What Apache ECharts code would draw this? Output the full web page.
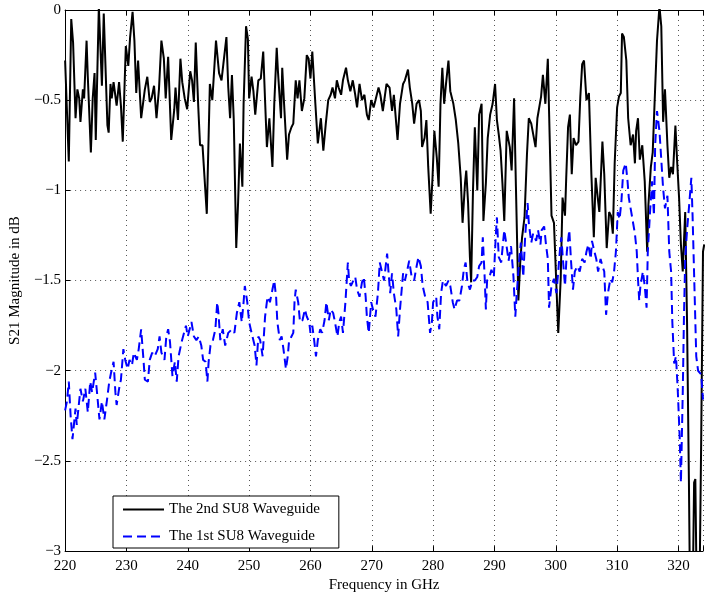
<!DOCTYPE html>
<html>
<head>
<meta charset="utf-8">
<script src="https://cdn.jsdelivr.net/npm/echarts@6/dist/echarts.min.js"></script>
<style>
html,body{margin:0;padding:0;background:#fff;}
#chart{width:706px;height:598px;}
</style>
</head>
<body>
<div id="chart"></div>
<script>
// Frequencies (GHz) and S21 magnitudes (dB)
const seriesNames = ['The 2nd SU8 Waveguide', 'The 1st SU8 Waveguide'];
const xTicks = [220, 230, 240, 250, 260, 270, 280, 290, 300, 310, 320];
const yTicks = [0, -0.5, -1, -1.5, -2, -2.5, -3];

const blackFreq = [220.0,220.6,221.0,221.3,221.7,222.0,222.3,222.5,222.9,223.1,223.5,223.7,224.2,224.5,224.8,225.0,225.5,225.8,226.0,226.3,226.9,227.1,227.4,227.6,227.9,228.4,228.8,229.1,229.4,229.7,229.9,230.3,230.6,231.0,231.3,231.6,231.9,232.4,233.0,233.4,233.8,234.1,234.5,234.9,235.3,235.7,236.1,236.4,236.8,237.3,237.8,238.0,238.4,238.8,239.1,239.5,239.9,240.4,240.7,241.0,241.3,241.7,242.0,242.4,243.1,243.6,244.0,244.6,245.1,245.5,245.8,246.3,246.6,246.9,247.2,247.5,247.9,248.2,248.5,248.9,249.1,249.5,249.8,250.0,250.4,250.7,251.0,251.5,251.9,252.3,252.6,252.9,253.3,253.8,254.1,254.5,254.7,255.2,255.4,255.7,256.2,256.5,256.9,257.2,257.6,257.9,258.2,258.6,259.0,259.4,259.7,260.0,260.3,260.8,261.2,261.7,262.1,262.5,262.9,263.3,263.6,264.0,264.3,264.6,265.0,265.3,265.8,266.1,266.5,266.9,267.3,267.6,268.0,268.4,268.8,269.2,269.5,269.9,270.3,270.6,271.1,271.4,271.8,272.4,272.9,273.3,273.6,274.2,274.6,275.1,275.4,275.9,276.2,276.6,276.9,277.3,277.7,278.0,278.2,278.6,278.9,279.2,279.6,279.9,280.2,280.6,280.9,281.2,281.5,281.8,282.1,282.5,282.8,283.3,283.7,284.1,284.5,284.8,285.2,285.4,285.7,286.0,286.2,286.5,286.8,287.2,287.5,287.9,288.2,288.6,288.9,289.3,289.7,290.1,290.4,290.7,291.0,291.3,291.6,292.0,292.5,292.8,293.2,293.5,293.9,294.2,294.5,294.9,295.3,295.6,296.0,296.3,296.7,297.0,297.6,297.9,298.3,298.7,298.9,299.3,299.7,300.1,300.4,300.8,301.1,301.5,301.7,302.0,302.3,302.6,302.9,303.3,303.7,304.0,304.3,304.6,305.0,305.4,305.8,306.2,306.5,306.9,307.1,307.6,307.9,308.3,308.7,309.0,309.3,309.6,310.0,310.3,310.6,310.8,311.1,311.5,311.8,312.2,312.6,312.9,313.1,313.4,313.7,314.1,314.5,314.9,315.1,315.5,315.8,316.1,316.5,316.9,317.2,317.5,317.8,318.2,318.5,318.8,319.1,319.5,319.8,320.1,320.4,320.7,320.9,321.1,321.4,321.7,321.9,322.3,322.55,322.75,323.0,323.4,323.7,324.0,324.2];
const blackVal = [-0.28,-0.84,-0.05,-0.18,-0.60,-0.44,-0.49,-0.62,-0.44,-0.49,-0.17,-0.37,-0.79,-0.49,-0.35,-0.72,0.02,0.02,-0.42,-0.02,-0.64,-0.68,-0.41,-0.49,-0.40,-0.53,-0.40,-0.53,-0.73,-0.73,-0.20,-0.31,-0.15,-0.01,-0.17,-0.46,-0.28,-0.60,-0.44,-0.37,-0.51,-0.49,-0.42,-0.60,-0.44,-0.17,-0.27,-0.49,-0.26,-0.72,-0.55,-0.43,-0.61,-0.27,-0.40,-0.49,-0.55,-0.34,-0.39,-0.51,-0.18,-0.53,-0.75,-0.75,-1.13,-0.41,-0.50,-0.17,-0.35,-0.39,-0.30,-0.15,-0.43,-0.60,-0.36,-0.61,-1.32,-1.07,-0.74,-0.98,-0.52,-0.09,-0.16,-0.49,-0.37,-0.45,-0.58,-0.39,-0.38,-0.23,-0.50,-0.76,-0.60,-0.87,-0.52,-0.21,-0.34,-0.60,-0.32,-0.52,-0.83,-0.69,-0.65,-0.63,-0.39,-0.49,-0.39,-0.56,-0.49,-0.25,-0.27,-0.38,-0.23,-0.52,-0.74,-0.60,-0.78,-0.63,-0.50,-0.47,-0.43,-0.49,-0.39,-0.43,-0.47,-0.39,-0.32,-0.39,-0.45,-0.39,-0.47,-0.54,-0.41,-0.50,-0.47,-0.58,-0.61,-0.50,-0.54,-0.50,-0.43,-0.47,-0.56,-0.41,-0.43,-0.56,-0.47,-0.72,-0.52,-0.41,-0.39,-0.33,-0.43,-0.52,-0.63,-0.52,-0.50,-0.56,-0.76,-0.71,-0.61,-0.87,-1.13,-0.93,-0.67,-0.82,-0.98,-0.52,-0.32,-0.52,-0.41,-0.28,-0.45,-0.52,-0.61,-0.74,-0.93,-1.18,-0.96,-0.89,-1.07,-1.37,-1.51,-1.00,-0.65,-1.00,-0.58,-0.52,-1.17,-0.96,-0.71,-0.58,-0.52,-0.41,-0.61,-0.69,-0.78,-0.96,-1.17,-0.67,-0.76,-0.89,-0.49,-0.98,-1.61,-1.40,-1.26,-1.15,-0.80,-0.60,-0.63,-0.63,-0.76,-0.60,-0.48,-0.36,-0.52,-0.27,-0.56,-1.14,-1.18,-1.53,-1.79,-1.49,-1.04,-1.14,-0.93,-0.65,-0.58,-0.91,-0.71,-0.75,-0.73,-0.48,-0.30,-0.28,-0.50,-0.46,-0.91,-1.26,-0.93,-1.06,-1.12,-0.73,-0.91,-1.32,-1.12,-1.14,-1.24,-0.85,-0.54,-0.48,-0.46,-0.13,-0.15,-0.28,-0.60,-0.75,-0.69,-0.85,-0.67,-0.60,-0.83,-0.75,-0.95,-1.34,-1.08,-0.87,-0.79,-0.52,-0.17,0.02,-0.09,-0.62,-0.44,-0.75,-0.93,-0.87,-0.91,-0.64,-0.85,-1.04,-1.30,-1.45,-1.28,-1.12,-1.73,-2.60,-3.30,-3.30,-2.62,-2.60,-3.30,-3.30,-2.40,-1.34,-1.30];

const blueFreq = [220.0,220.3,220.6,220.9,221.2,221.7,221.9,222.5,222.9,223.3,223.7,224.1,224.4,224.9,225.2,225.6,226.0,226.4,226.8,227.2,227.5,227.9,228.2,228.4,228.8,229.1,229.5,229.8,230.2,230.5,230.9,231.2,231.7,232.0,232.4,232.8,233.0,233.5,233.8,234.2,234.6,235.1,235.4,235.7,236.2,236.5,236.8,237.1,237.5,237.9,238.2,238.5,239.0,239.3,239.7,240.0,240.6,241.0,241.4,241.8,242.2,242.5,242.9,243.2,243.4,243.7,244.1,244.5,244.8,245.0,245.3,245.7,246.1,246.6,247.2,247.6,248.0,248.4,248.8,249.1,249.3,249.7,250.0,250.4,250.9,251.2,251.5,251.8,252.2,252.6,253.0,253.4,253.8,254.1,254.4,254.6,255.0,255.3,255.6,256.0,256.3,256.5,256.9,257.2,257.4,257.6,258.0,258.3,258.7,259.1,259.4,259.8,260.0,260.3,260.6,260.9,261.2,261.6,261.9,262.3,262.6,263.0,263.3,263.7,264.0,264.4,264.7,265.0,265.3,265.7,266.1,266.3,266.6,267.0,267.3,267.6,268.0,268.4,268.7,269.0,269.2,269.5,269.9,270.2,270.6,271.0,271.3,271.6,272.0,272.5,272.7,273.0,273.3,273.6,274.0,274.3,274.6,275.1,275.4,275.8,276.1,276.5,276.9,277.2,277.6,278.0,278.3,278.7,279.1,279.5,279.8,280.0,280.5,280.7,281.0,281.3,281.6,282.1,282.5,282.8,283.2,283.5,283.9,284.3,284.7,285.0,285.3,285.6,286.0,286.4,286.8,287.2,287.5,287.9,288.1,288.4,288.6,288.8,289.2,289.5,289.9,290.2,290.4,290.7,291.1,291.4,291.6,291.9,292.3,292.7,293.1,293.4,293.6,294.0,294.3,294.7,295.0,295.4,295.6,296.0,296.3,296.8,297.1,297.5,297.7,298.1,298.4,298.7,298.9,299.3,299.7,300.1,300.4,300.7,300.9,301.2,301.5,301.8,302.2,302.5,302.8,303.1,303.5,303.9,304.3,304.7,305.0,305.3,305.7,305.9,306.3,306.6,306.9,307.3,307.6,307.9,308.2,308.5,308.9,309.2,309.5,309.8,310.1,310.4,310.7,311.0,311.4,311.7,311.9,312.2,312.5,312.9,313.2,313.4,313.6,313.8,314.2,314.5,314.8,315.0,315.4,315.7,316.0,316.2,316.5,316.9,317.2,317.5,317.8,318.2,318.5,318.8,319.0,319.3,319.6,319.9,320.2,320.4,320.7,320.9,321.1,321.4,321.7,322.1,322.3,322.6,322.9,323.2,323.7,324.0];
const blueVal = [-2.22,-2.17,-2.06,-2.25,-2.38,-2.21,-2.30,-2.10,-2.17,-2.10,-2.23,-2.06,-2.12,-2.01,-2.12,-2.27,-2.17,-2.27,-2.17,-2.06,-2.01,-1.95,-2.12,-2.19,-2.10,-2.05,-1.88,-1.94,-1.99,-1.94,-1.97,-1.90,-1.94,-1.88,-1.77,-1.95,-2.05,-2.06,-1.94,-1.90,-1.92,-1.88,-1.81,-1.90,-1.94,-1.81,-1.77,-1.84,-2.03,-1.95,-2.06,-1.92,-1.84,-1.83,-1.75,-1.81,-1.73,-1.81,-1.83,-1.81,-1.86,-1.94,-1.95,-2.06,-1.95,-1.86,-1.83,-1.77,-1.62,-1.68,-1.83,-1.77,-1.86,-1.79,-1.77,-1.79,-1.68,-1.62,-1.73,-1.62,-1.53,-1.62,-1.73,-1.79,-1.86,-1.97,-1.81,-1.83,-1.92,-1.70,-1.59,-1.62,-1.55,-1.50,-1.59,-1.73,-1.83,-1.81,-1.88,-1.99,-1.92,-1.84,-1.81,-1.79,-1.62,-1.55,-1.62,-1.73,-1.72,-1.66,-1.70,-1.73,-1.79,-1.75,-1.83,-1.92,-1.83,-1.77,-1.79,-1.72,-1.62,-1.72,-1.66,-1.68,-1.73,-1.81,-1.73,-1.70,-1.79,-1.62,-1.40,-1.50,-1.53,-1.50,-1.48,-1.55,-1.59,-1.51,-1.48,-1.59,-1.70,-1.79,-1.62,-1.66,-1.70,-1.57,-1.40,-1.40,-1.50,-1.35,-1.44,-1.57,-1.46,-1.57,-1.66,-1.81,-1.66,-1.46,-1.50,-1.44,-1.39,-1.48,-1.50,-1.44,-1.37,-1.42,-1.53,-1.59,-1.62,-1.79,-1.73,-1.62,-1.59,-1.70,-1.77,-1.57,-1.50,-1.53,-1.50,-1.53,-1.62,-1.66,-1.61,-1.61,-1.53,-1.44,-1.40,-1.51,-1.55,-1.50,-1.50,-1.48,-1.42,-1.40,-1.26,-1.48,-1.66,-1.50,-1.48,-1.44,-1.48,-1.26,-1.15,-1.37,-1.40,-1.29,-1.22,-1.29,-1.39,-1.31,-1.48,-1.70,-1.59,-1.40,-1.29,-1.48,-1.26,-1.07,-1.18,-1.29,-1.24,-1.28,-1.22,-1.30,-1.22,-1.20,-1.30,-1.38,-1.65,-1.53,-1.49,-1.57,-1.45,-1.32,-1.26,-1.40,-1.53,-1.34,-1.22,-1.40,-1.55,-1.45,-1.42,-1.45,-1.38,-1.40,-1.34,-1.30,-1.38,-1.28,-1.34,-1.38,-1.45,-1.38,-1.42,-1.45,-1.69,-1.57,-1.49,-1.51,-1.45,-1.34,-1.12,-1.16,-1.06,-0.89,-0.85,-0.95,-1.04,-1.10,-1.16,-1.24,-1.34,-1.49,-1.61,-1.53,-1.45,-1.53,-1.65,-1.34,-1.10,-0.95,-1.14,-0.75,-0.56,-0.67,-0.83,-0.99,-1.10,-1.03,-1.34,-1.45,-1.73,-1.96,-1.92,-2.12,-2.37,-2.62,-2.12,-1.69,-1.38,-1.22,-1.10,-0.93,-1.14,-1.53,-1.92,-2.00,-2.02,-2.16];

const FONT = 'Liberation Serif';
const FS = 15;
const fmtY = v => (v === 0 ? '0' : (v < 0 ? '\u2212' : '') + String(Math.abs(v)));

const chart = echarts.init(document.getElementById('chart'), null, {renderer: 'canvas'});
const gridLine = {show: true, lineStyle: {color: '#555', type: [1, 4], width: 1}};
chart.setOption({
  animation: false,
  backgroundColor: '#fff',
  grid: {left: 63, top: 10, right: 0, bottom: 43, containLabel: false},
  legend: {
    data: seriesNames,
    orient: 'vertical',
    left: 113, top: 496,
    itemWidth: 41, itemHeight: 14, itemGap: 12,
    padding: [6, 19, 4, 9],
    backgroundColor: '#fff', borderColor: '#000', borderWidth: 1, borderRadius: 0,
    textStyle: {fontFamily: FONT, fontSize: FS, color: '#000'},
    itemStyle: {opacity: 0}
  },
  xAxis: [{
    type: 'value', min: 220, max: 324, interval: 10,
    name: 'Frequency in GHz', nameLocation: 'middle', nameGap: 20,
    nameTextStyle: {fontFamily: FONT, fontSize: FS, color: '#000'},
    axisLine: {show: true, onZero: false, lineStyle: {color: '#000', width: 1}},
    axisTick: {show: true, inside: true, length: 5, lineStyle: {color: '#000'}},
    axisLabel: {fontFamily: FONT, fontSize: FS, color: '#000', margin: 7,
      formatter: v => (xTicks.indexOf(v) >= 0 ? String(v) : '')},
    splitLine: gridLine
  }, {
    type: 'value', min: 220, max: 324, interval: 10, position: 'top',
    axisLine: {show: true, onZero: false, lineStyle: {color: '#000', width: 1}},
    axisTick: {show: true, inside: true, length: 5, lineStyle: {color: '#000'}},
    axisLabel: {show: false}, splitLine: {show: false}
  }],
  yAxis: {
    type: 'value', min: -3, max: 0, interval: 0.5,
    name: 'S21 Magnitude in dB', nameLocation: 'middle', nameGap: 37,
    nameTextStyle: {fontFamily: FONT, fontSize: FS, color: '#000'},
    axisLine: {show: true, onZero: false, lineStyle: {color: '#000', width: 1}},
    axisTick: {show: true, inside: true, length: 5, lineStyle: {color: '#000'}},
    axisLabel: {fontFamily: FONT, fontSize: FS, color: '#000', margin: 4,
      formatter: v => (yTicks.indexOf(v) >= 0 ? fmtY(v) : '')},
    splitLine: gridLine
  },
  series: [{
    name: seriesNames[0], type: 'line', symbol: 'none', clip: true,
    data: blackFreq.map((f, i) => [f, blackVal[i]]),
    lineStyle: {color: '#000', width: 2}, itemStyle: {color: '#000'}
  }, {
    name: seriesNames[1], type: 'line', symbol: 'none', clip: true,
    data: blueFreq.map((f, i) => [f, blueVal[i]]),
    lineStyle: {color: '#0000ff', width: 2, type: [9, 5]}, itemStyle: {color: '#0000ff'}
  }]
});
</script>
</body>
</html>
